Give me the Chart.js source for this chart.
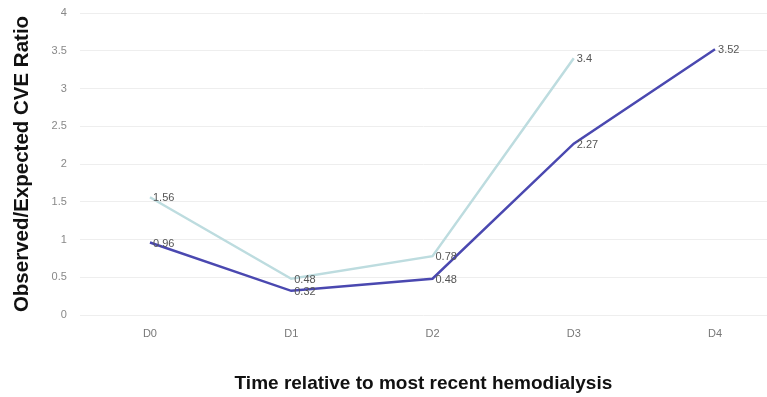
<!DOCTYPE html>
<html><head><meta charset="utf-8">
<script src="https://cdn.jsdelivr.net/npm/chart.js@4/dist/chart.umd.min.js"></script>
<style>html,body{margin:0;padding:0;background:#fff}#wrap{width:767px;height:397px}</style>
</head><body><div id="wrap"><canvas id="c"></canvas></div>
<script>
const categories = ["D0", "D1", "D2", "D3", "D4"];
const seriesLight = [1.56, 0.48, 0.78, 3.4, null];
const seriesDark = [0.96, 0.32, 0.48, 2.27, 3.52];
const yTicks = [0, 0.5, 1, 1.5, 2, 2.5, 3, 3.5, 4];

const toPts = arr => arr.map((v, i) => ({x: i, y: v})).filter(p => p.y !== null);

const labelPlugin = {
  id: 'pointLabels',
  afterDatasetsDraw(chart) {
    const ctx = chart.ctx;
    ctx.save();
    ctx.font = '11px "Liberation Sans", Arial, sans-serif';
    ctx.fillStyle = '#555';
    ctx.textAlign = 'left';
    ctx.textBaseline = 'middle';
    chart.data.datasets.forEach((ds, di) => {
      const meta = chart.getDatasetMeta(di);
      meta.data.forEach((el, i) => {
        ctx.fillText(String(ds.data[i].y), el.x + 3, el.y + 1);
      });
    });
    ctx.restore();
  }
};

new Chart(document.getElementById('c'), {
  type: 'line',
  data: {
    datasets: [
      {data: toPts(seriesLight), borderColor: '#bddcdf', borderWidth: 2.5, pointRadius: 0, tension: 0},
      {data: toPts(seriesDark), borderColor: '#4a48b0', borderWidth: 2.5, pointRadius: 0, tension: 0}
    ]
  },
  options: {
    responsive: true,
    maintainAspectRatio: false,
    animation: false,
    layout: {padding: {top: 13, right: 0, left: 10, bottom: 2}},
    plugins: {legend: {display: false}, tooltip: {enabled: false}},
    scales: {
      x: {
        type: 'linear', min: -0.496, max: 4.368,
        afterBuildTicks: s => { s.ticks = categories.map((c, i) => ({value: i})); },
        ticks: {
          callback: v => categories[v],
          color: '#777', font: {size: 11, family: '"Liberation Sans", Arial, sans-serif'},
          padding: 4, maxRotation: 0
        },
        grid: {display: false},
        border: {display: false},
        title: {
          display: true, text: 'Time relative to most recent hemodialysis',
          color: '#111', font: {size: 19, weight: 'bold', family: '"Liberation Sans", Arial, sans-serif'},
          padding: {top: 28, bottom: 0}
        }
      },
      y: {
        min: 0, max: 4,
        afterBuildTicks: s => { s.ticks = yTicks.map(v => ({value: v})); },
        ticks: {
          callback: v => String(v),
          color: '#888', font: {size: 11, family: '"Liberation Sans", Arial, sans-serif'},
          padding: 0
        },
        grid: {color: '#eeeeee', drawTicks: true, tickLength: 13, tickColor: 'rgba(0,0,0,0)', lineWidth: 1},
        border: {display: false},
        title: {
          display: true, text: 'Observed/Expected CVE Ratio',
          color: '#111', font: {size: 20.5, weight: 'bold', family: '"Liberation Sans", Arial, sans-serif'},
          padding: {top: 0, bottom: 17}
        }
      }
    }
  },
  plugins: [labelPlugin]
});
</script></body></html>
